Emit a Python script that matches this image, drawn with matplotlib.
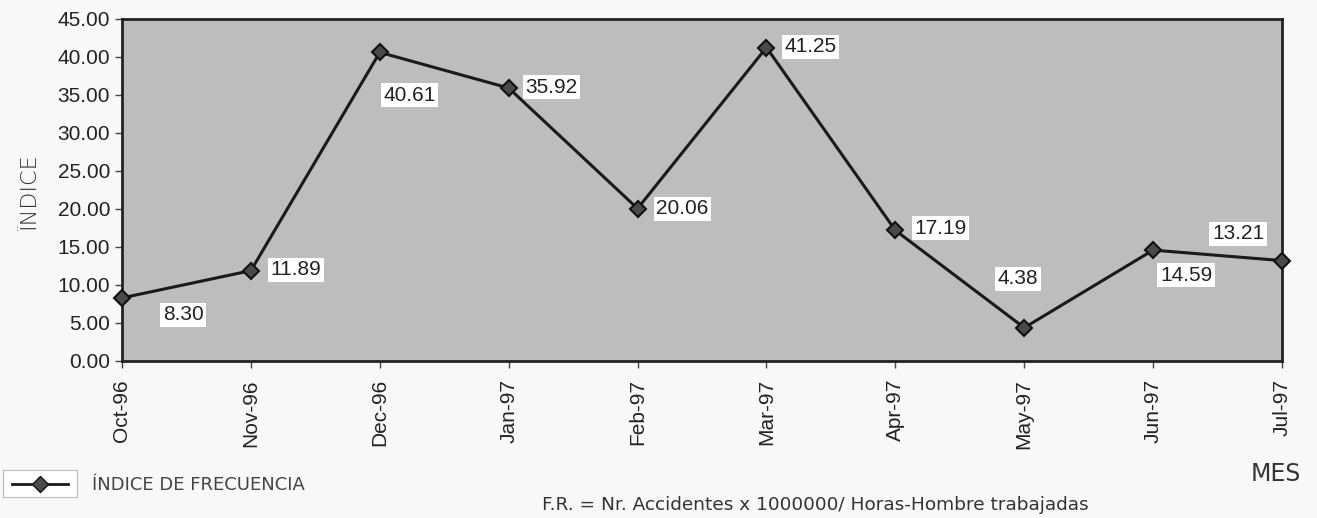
import matplotlib
matplotlib.use("Agg")
import matplotlib.pyplot as plt

meses = ["Oct-96", "Nov-96", "Dec-96", "Jan-97", "Feb-97", "Mar-97",
         "Apr-97", "May-97", "Jun-97", "Jul-97"]
indice = [8.30, 11.89, 40.61, 35.92, 20.06, 41.25, 17.19, 4.38, 14.59, 13.21]
etiquetas = ["8.30", "11.89", "40.61", "35.92", "20.06", "41.25",
             "17.19", "4.38", "14.59", "13.21"]
# label offsets from the point, in pixels
offsets = [(61, -17), (45, 1), (30, -43), (43, 1), (45, 0), (44, 1),
           (45, 2), (-6, 49), (33, -25), (-44, 27)]
yticks = [0, 5, 10, 15, 20, 25, 30, 35, 40, 45]

plt.rcParams['font.family'] = ['Liberation Sans', 'DejaVu Sans']

fig = plt.figure(figsize=(13.17, 5.18), dpi=100, facecolor="#f8f8f8")
ax = fig.add_axes([122 / 1317, 1 - 361 / 518, (1282 - 122) / 1317, (361 - 19) / 518])
ax.set_facecolor("#bdbdbd")

x = list(range(len(meses)))
ax.plot(x, indice, color="#1a1a1a", lw=2.2, marker="D", ms=8,
        markerfacecolor="#4a4a4a", markeredgecolor="#111111", mew=1.5,
        clip_on=False, zorder=3)

for xi, yi, lab, off in zip(x, indice, etiquetas, offsets):
    ax.annotate(lab, (xi, yi), xytext=off, textcoords="offset pixels",
                ha="center", va="center", fontsize=15, color="#222222",
                bbox=dict(boxstyle="square,pad=0.12", fc="white", ec="none"),
                zorder=4)

ax.set_xlim(0, len(meses) - 1)
ax.set_ylim(0, 45)
ax.set_xticks(x)
ax.set_xticklabels(meses, rotation=90, fontsize=15, color="#222222")
ax.set_yticks(yticks)
ax.set_yticklabels(["%.2f" % v for v in yticks], fontsize=15, color="#222222")
ax.tick_params(axis="both", direction="out", length=5, width=1, color="#444444")
ax.tick_params(axis="x", pad=8)
for s in ax.spines.values():
    s.set_linewidth(2)
    s.set_color("#222222")

fig.text(30 / 1317, 1 - 192 / 518, "ÏNDICE", rotation=90, ha="center", va="center",
         fontsize=16, color="#333333", family=["DejaVu Sans"], fontweight="light")

# legend key box, label outside the box
key = fig.add_axes([3 / 1317, 1 - 497 / 518, 74 / 1317, 27 / 518])
key.set_xlim(0, 1)
key.set_ylim(0, 1)
key.set_xticks([])
key.set_yticks([])
key.set_facecolor("white")
for s in key.spines.values():
    s.set_color("#bbbbbb")
key.plot([0.12, 0.88], [0.5, 0.5], color="#1a1a1a", lw=2)
key.plot([0.5], [0.5], marker="D", ms=8, color="#1a1a1a",
         markerfacecolor="#4a4a4a", markeredgecolor="#111111")
fig.text(92 / 1317, 1 - 485 / 518, "ÍNDICE DE FRECUENCIA", ha="left", va="center",
         fontsize=13, color="#444444", family=["DejaVu Sans"])

fig.text(1276 / 1317, 1 - 474 / 518, "MES", ha="center", va="center",
         fontsize=17, color="#333333", family=["DejaVu Sans"])
fig.text(815 / 1317, 1 - 505 / 518,
         "F.R. = Nr. Accidentes x 1000000/ Horas-Hombre trabajadas",
         ha="center", va="center", fontsize=13.3, color="#333333", family=["DejaVu Sans"])

fig.savefig("out.png", dpi=100, facecolor=fig.get_facecolor())
